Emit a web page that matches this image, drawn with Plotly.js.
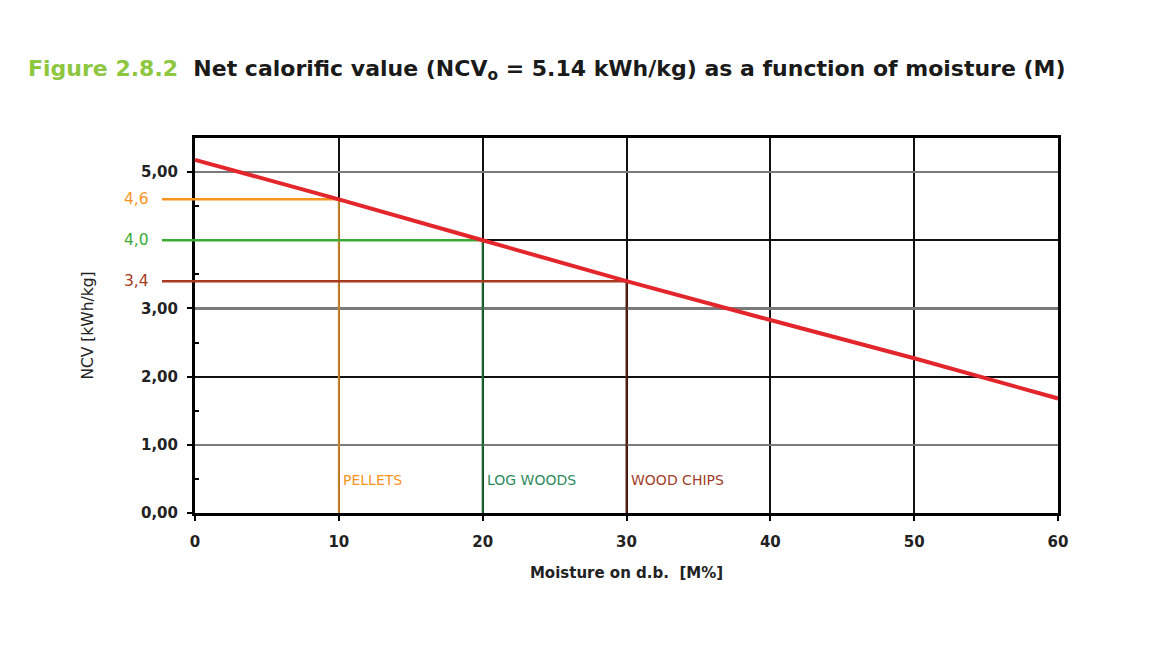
<!DOCTYPE html>
<html>
<head>
<meta charset="utf-8">
<script src="https://cdn.plot.ly/plotly-3.0.1.min.js"></script>
<style>html,body{margin:0;padding:0;background:#fff;}#chart{width:1150px;height:656px;}</style>
</head>
<body>
<div id="chart"></div>
<script>
// ---- data ----
const moisture = [0, 10, 20, 30, 40, 50, 60];
const ncv = [5.18, 4.6, 4.0, 3.4, 2.83, 2.27, 1.68];

const refNames = ['PELLETS', 'LOG WOODS', 'WOOD CHIPS'];
const refMoisture = [10, 20, 30];
const refNCV = [4.6, 4.0, 3.4];
const refValueLabels = ['4,6', '4,0', '3,4'];

const yTickVals = [0, 1, 2, 3, 4, 5];
const yTickText = ['0,00', '1,00', '2,00', '3,00', '', '5,00'];
const xTickVals = [0, 10, 20, 30, 40, 50, 60];

// ---- style ----
const hColors = ['#F7941D', '#3AAA35', '#A63A1E'];
const vColors = ['#C98A2A', '#1F6B33', '#5A1E12'];
const labelColors = ['#F7941D', '#2E8A5C', '#A0402A'];
const W = 1150, H = 656;
const M = {l: 162, r: 92, t: 138, b: 143};
const axisLeftPx = 195;
const plotW = W - M.l - M.r;
const xDomStart = (axisLeftPx - M.l) / plotW;
const xMax = 60, yMax = 5.5;
const pxPerUnit = (plotW - (axisLeftPx - M.l)) / xMax;
const x2Min = -(axisLeftPx - M.l) / pxPerUnit;
const FONT = '"DejaVu Sans", "Open Sans", sans-serif';

const traces = [];
// empty traces so the grid-only axes are drawn
traces.push({x: [], y: [], type: 'scatter', mode: 'lines', xaxis: 'x', yaxis: 'y', showlegend: false, hoverinfo: 'skip'});
traces.push({x: [], y: [], type: 'scatter', mode: 'lines', xaxis: 'x', yaxis: 'y2', showlegend: false, hoverinfo: 'skip'});
traces.push({x: [], y: [], type: 'scatter', mode: 'lines', xaxis: 'x', yaxis: 'y3', showlegend: false, hoverinfo: 'skip'});

refNames.forEach((n, i) => {
  traces.push({
    x: [refMoisture[i], refMoisture[i]], y: [0, refNCV[i]],
    type: 'scatter', mode: 'lines', xaxis: 'x2', yaxis: 'y4',
    line: {color: vColors[i], width: 2}, showlegend: false, hoverinfo: 'skip'
  });
  traces.push({
    x: [x2Min, refMoisture[i]], y: [refNCV[i], refNCV[i]],
    type: 'scatter', mode: 'lines', xaxis: 'x2', yaxis: 'y4',
    line: {color: hColors[i], width: 2.5}, showlegend: false, hoverinfo: 'skip'
  });
});

traces.push({
  x: moisture, y: ncv, type: 'scatter', mode: 'lines', xaxis: 'x2', yaxis: 'y4',
  line: {color: '#E3262B', width: 4}, showlegend: false
});

const annotations = [];
refNames.forEach((n, i) => {
  annotations.push({
    xref: 'x', yref: 'y', x: refMoisture[i], y: 0.48, text: n, showarrow: false,
    xanchor: 'left', yanchor: 'middle', xshift: 2,
    font: {family: FONT, size: 14, color: labelColors[i]}
  });
  annotations.push({
    xref: 'paper', yref: 'y', x: 0, y: refNCV[i], text: refValueLabels[i], showarrow: false,
    xanchor: 'right', yanchor: 'middle', xshift: -11,
    font: {family: FONT, size: 15.5, color: hColors[i]}
  });
});

const layout = {
  width: W, height: H,
  margin: M,
  paper_bgcolor: '#fff', plot_bgcolor: 'rgba(0,0,0,0)',
  font: {family: FONT, color: '#1a1a1a'},
  showlegend: false,
  title: {
    text: "<span style='color:#8DC63F'>Figure 2.8.2</span>  Net calorific value (NCV<sub>o</sub> = 5.14 kWh/kg) as a function of moisture (M)",
    font: {family: FONT, size: 22, weight: 700, color: '#1a1a1a'},
    xref: 'container', yref: 'container', x: 28 / W, xanchor: 'left', y: 1 - 68 / H, yanchor: 'middle'
  },
  xaxis: {
    domain: [xDomStart, 1], range: [0, xMax], anchor: 'y',
    tickvals: xTickVals, ticks: 'outside', ticklen: 5, tickwidth: 2, tickcolor: '#000',
    ticklabelstandoff: 8,
    showgrid: true, gridcolor: '#111', gridwidth: 2,
    showline: true, linecolor: '#000', linewidth: 3, mirror: true, zeroline: false,
    tickfont: {family: FONT, size: 15, weight: 700, color: '#222'},
    title: {text: 'Moisture on d.b.&nbsp; [M%]', font: {family: FONT, size: 15, weight: 700, color: '#222'}, standoff: 18}
  },
  yaxis: {
    domain: [0, 1], range: [0, yMax], anchor: 'x',
    tickvals: yTickVals, ticktext: yTickText,
    ticks: 'outside', ticklen: 5, tickwidth: 2, tickcolor: '#000',
    ticklabelstandoff: 6,
    minor: {tickvals: [0.5, 1.5, 2.5, 3.5, 4.5], ticks: 'inside', ticklen: 4, tickwidth: 2, tickcolor: '#000', showgrid: false},
    showgrid: false, showline: true, linecolor: '#000', linewidth: 3, mirror: true, zeroline: false,
    tickfont: {family: FONT, size: 15, weight: 700, color: '#222'},
    title: {text: 'NCV [kWh/kg]', font: {family: FONT, size: 15.5, color: '#222'}, standoff: 44}
  },
  yaxis2: {
    overlaying: 'y', anchor: 'x', range: [0, yMax], tickvals: [1, 3, 5],
    showticklabels: false, ticks: '', showgrid: true, gridcolor: '#7a7a7a', gridwidth: 2.5,
    showline: false, zeroline: false
  },
  yaxis3: {
    overlaying: 'y', anchor: 'x', range: [0, yMax], tickvals: [2, 4],
    showticklabels: false, ticks: '', showgrid: true, gridcolor: '#111', gridwidth: 2,
    showline: false, zeroline: false
  },
  xaxis2: {
    domain: [0, 1], range: [x2Min, xMax], anchor: 'y4', visible: false
  },
  yaxis4: {
    domain: [0, 1], range: [0, yMax], anchor: 'x2', visible: false
  },
  annotations: annotations
};

Plotly.newPlot('chart', traces, layout, {displayModeBar: false, staticPlot: true});
</script>
</body>
</html>
